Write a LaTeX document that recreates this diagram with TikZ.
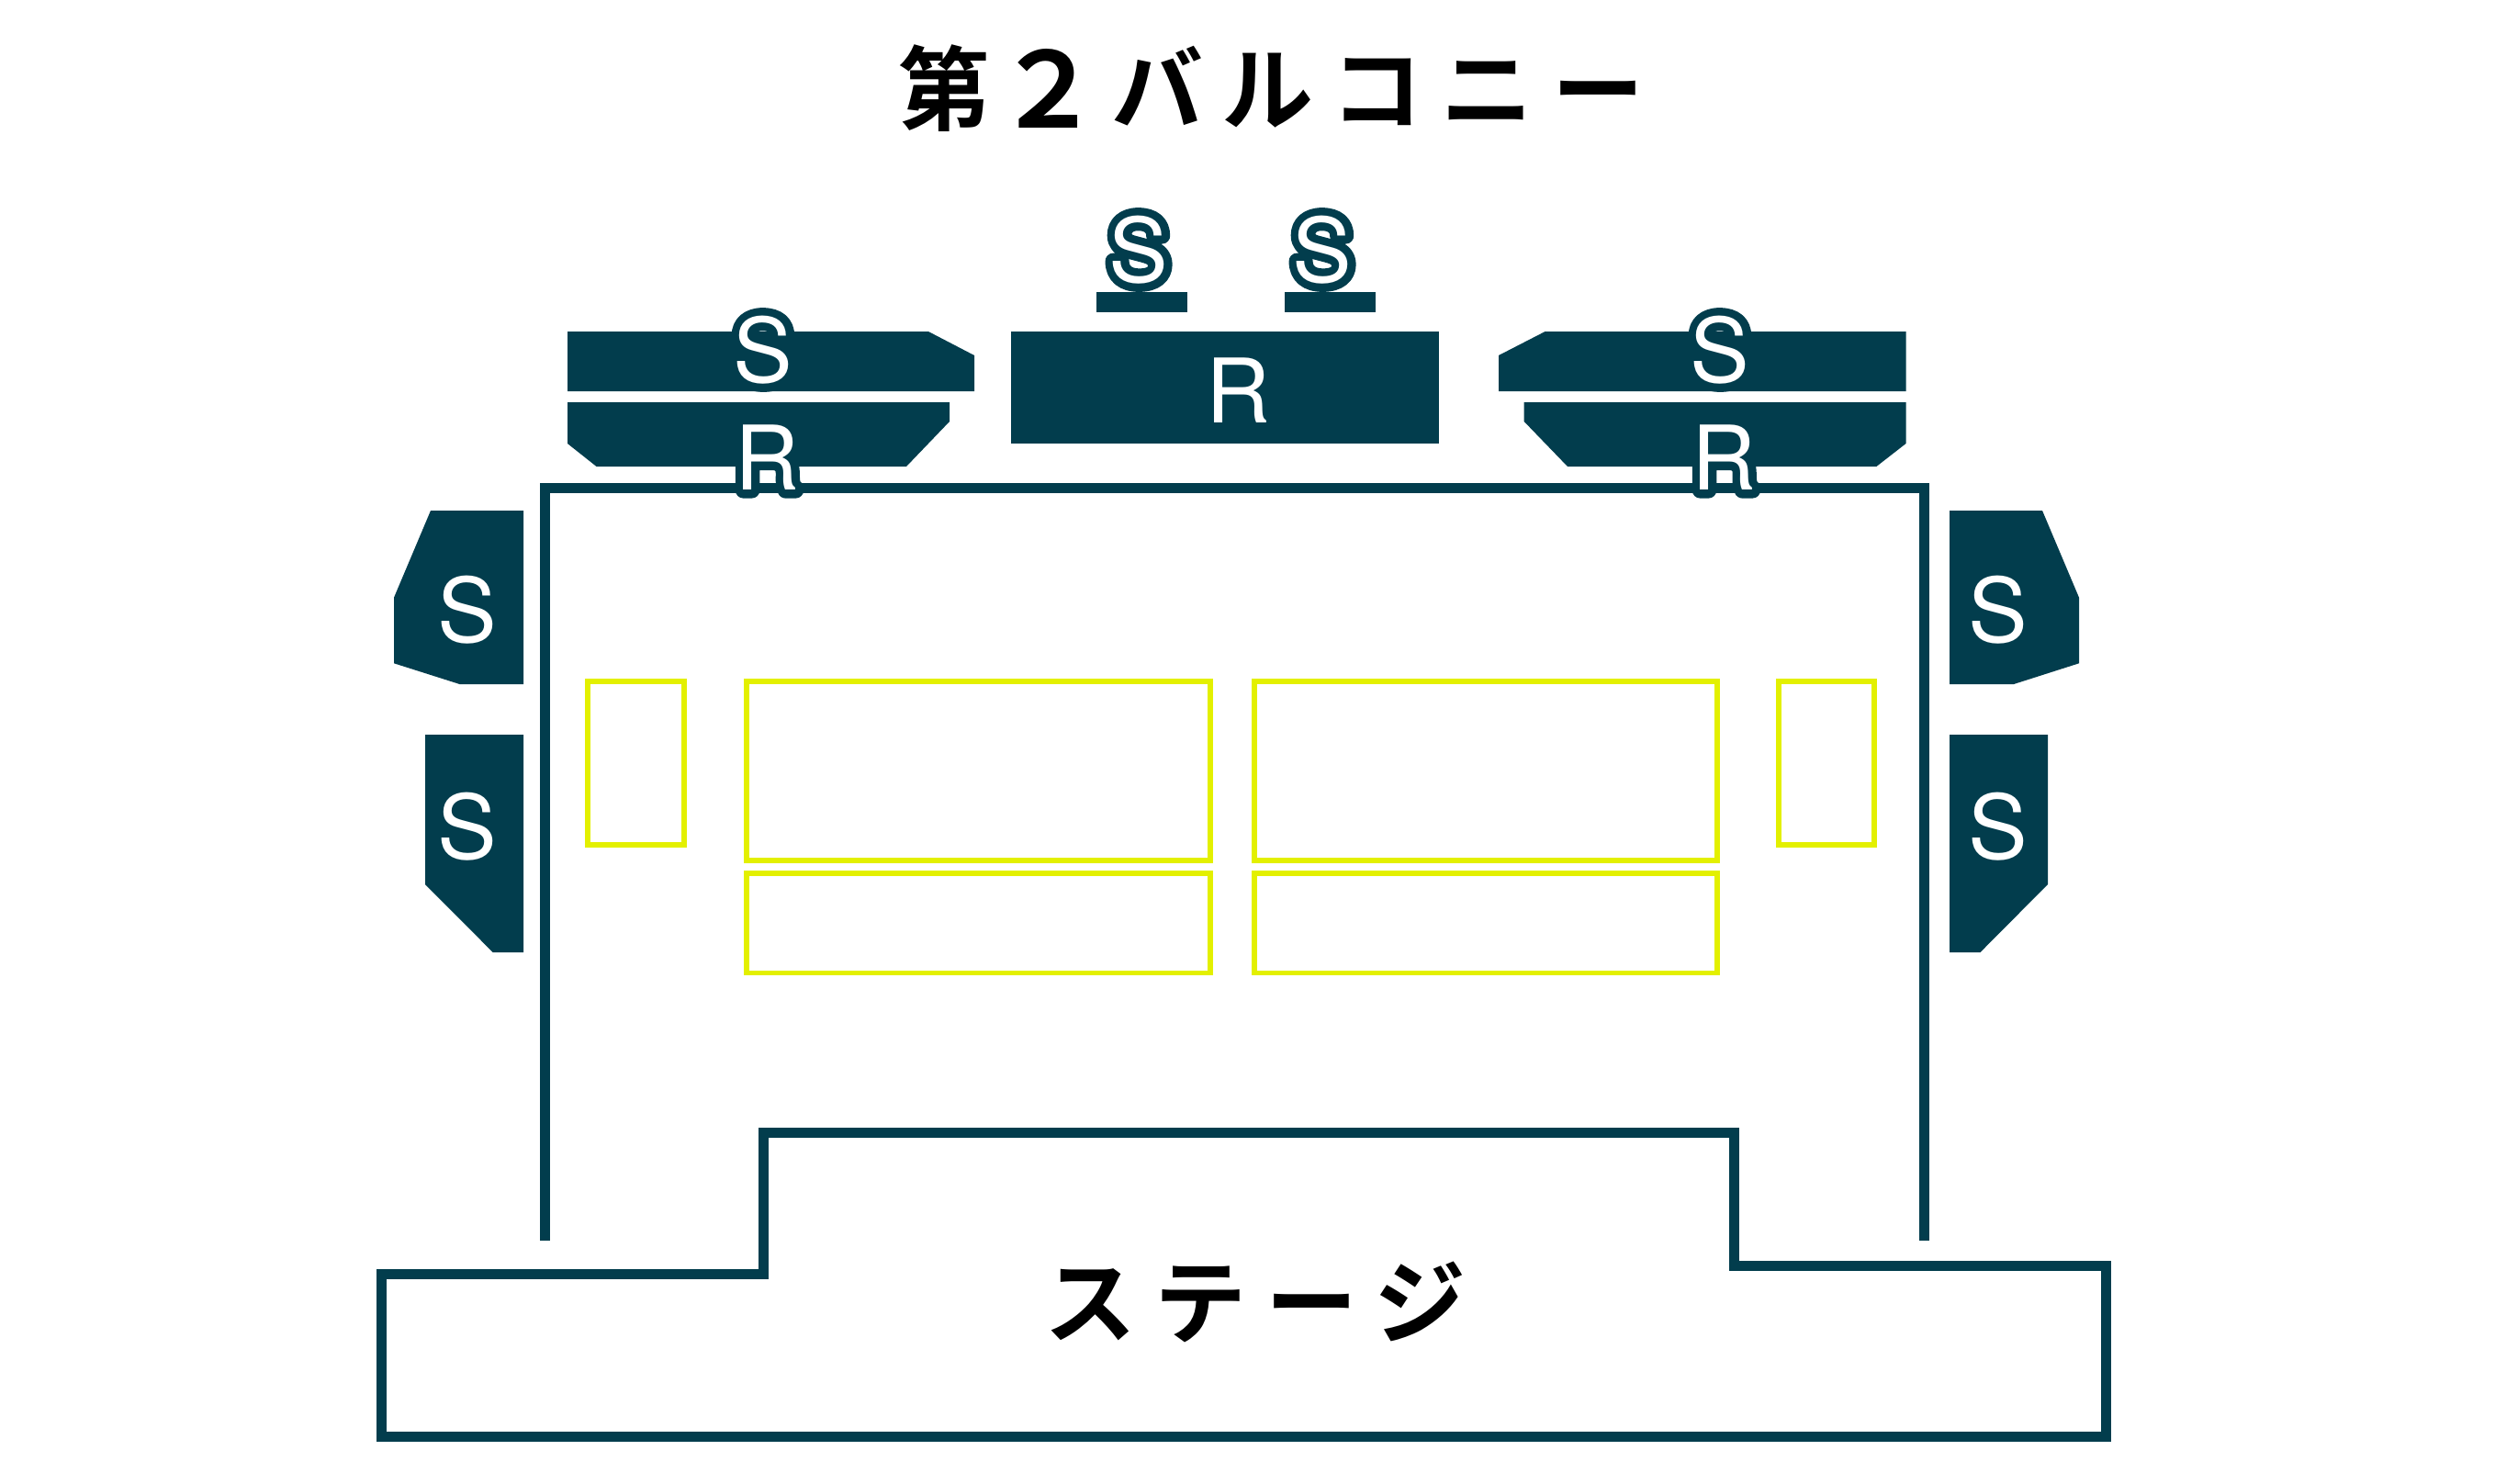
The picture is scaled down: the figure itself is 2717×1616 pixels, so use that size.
\documentclass[tikz,border=0pt]{standalone}
\usepackage{fontspec}
\setmainfont{TeX Gyre Heros}
\newfontfamily\jpfont[LetterSpace=20.5]{Noto Sans CJK JP Bold}
\newfontfamily\haloS[FakeBold=18]{TeX Gyre Heros}
\definecolor{seat}{HTML}{023D4D}
\definecolor{lime}{HTML}{E3F000}
\tikzset{
  x=1pt,y=-1pt,
  block/.style={fill=seat,draw=none},
  wall/.style={draw=seat,line width=11pt,line join=miter},
  zone/.style={draw=lime,line width=5.6pt},
  seatletter/.style={text=white,inner sep=0pt,font=\fontsize{97}{97}\selectfont},
  haloletter/.style={text=seat,inner sep=0pt,font=\haloS\fontsize{97}{97}\selectfont},
  heading/.style={inner sep=0pt,text=black,font=\jpfont\fontsize{100}{100}\selectfont},
}
\begin{document}
\begin{tikzpicture}
\useasboundingbox (0,0) rectangle (2717,1616);
% walls
\draw[wall] (593.3,1350.7) -- (593.3,531.6) -- (2095,531.6) -- (2095,1350.7);
\draw[wall] (415.8,1387.2) -- (831.5,1387.2) -- (831.5,1233.3) -- (1888.5,1233.3) -- (1888.5,1378.2) -- (2293.4,1378.2) -- (2293.4,1564) -- (415.8,1564) -- cycle;
% top blocks
\fill[block] (618,361) -- (1011,361) -- (1061,387) -- (1061,426) -- (618,426) -- cycle;
\fill[block] (618,438) -- (1034,438) -- (1034,459) -- (987,508) -- (649.5,508) -- (618,483) -- cycle;
\fill[block] (1101.3,361) rectangle (1566.7,483);
\fill[block] (1682.6,361) -- (2075.5,361) -- (2075.5,426) -- (1632,426) -- (1632,387) -- cycle;
\fill[block] (1659.7,438) -- (2075.5,438) -- (2075.5,483) -- (2043.4,508) -- (1707,508) -- (1659.7,459) -- cycle;
\fill[block] (1194,318) rectangle (1292.7,340);
\fill[block] (1399,318) rectangle (1497.6,340);
% side blocks
\fill[block] (469,556) -- (570,556) -- (570,745) -- (500.5,745) -- (429,722.3) -- (429,650.7) -- cycle;
\fill[block] (463,800) -- (570,800) -- (570,1037) -- (536.7,1037) -- (463,963) -- cycle;
\fill[block] (2123,556) -- (2224,556) -- (2264,650.7) -- (2264,722.3) -- (2193,745) -- (2123,745) -- cycle;
\fill[block] (2123,800) -- (2230,800) -- (2230,963) -- (2156.5,1037) -- (2123,1037) -- cycle;
% yellow zones
\draw[zone] (639.8,741.8) rectangle (744.7,919.9);
\draw[zone] (812.8,741.8) rectangle (1318.2,936.9);
\draw[zone] (812.8,950.8) rectangle (1318.2,1059.5);
\draw[zone] (1365.8,741.8) rectangle (1870.2,936.9);
\draw[zone] (1365.8,950.8) rectangle (1870.2,1059.5);
\draw[zone] (1936.8,741.8) rectangle (2041.2,919.9);
% halos
\node[haloletter] (hs1) at (1240,272) {\special{pdf:code 1 j}S};
\node[haloletter] (hs2) at (1440,272) {\special{pdf:code 1 j}S};
\node[haloletter] (hs3) at (831,381) {\special{pdf:code 1 j}S};
\node[haloletter] (hs4) at (1873,381) {\special{pdf:code 1 j}S};
\node[haloletter] (hr1) at (835.6,498.5) {\special{pdf:code 1 j}R};
\node[haloletter] (hr2) at (1877.5,498.5) {\special{pdf:code 1 j}R};
% letters
\node[seatletter] (s1) at (1240,272) {S};
\node[seatletter] (s2) at (1440,272) {S};
\node[seatletter] (s3) at (831,381) {S};
\node[seatletter] (s4) at (1873,381) {S};
\node[seatletter] (r1) at (835.6,498.5) {R};
\node[seatletter] (r2) at (1877.5,498.5) {R};
\node[seatletter] (rc) at (1348,425) {R};
\node[seatletter] (s5) at (509,664.3) {S};
\node[seatletter] (s6) at (509,900) {S};
\node[seatletter] (s7) at (2175.5,664.3) {S};
\node[seatletter] (s8) at (2175.5,900) {S};
% headings
\node[heading] (title) at (1384,96) {第\kern6pt\smash{\lower5pt\hbox{\fontsize{114}{100}\selectfont ２}}\kern12pt バルコニー};
\node[heading] (stage) at (1367,1418) {ステージ};
\end{tikzpicture}
\end{document}
